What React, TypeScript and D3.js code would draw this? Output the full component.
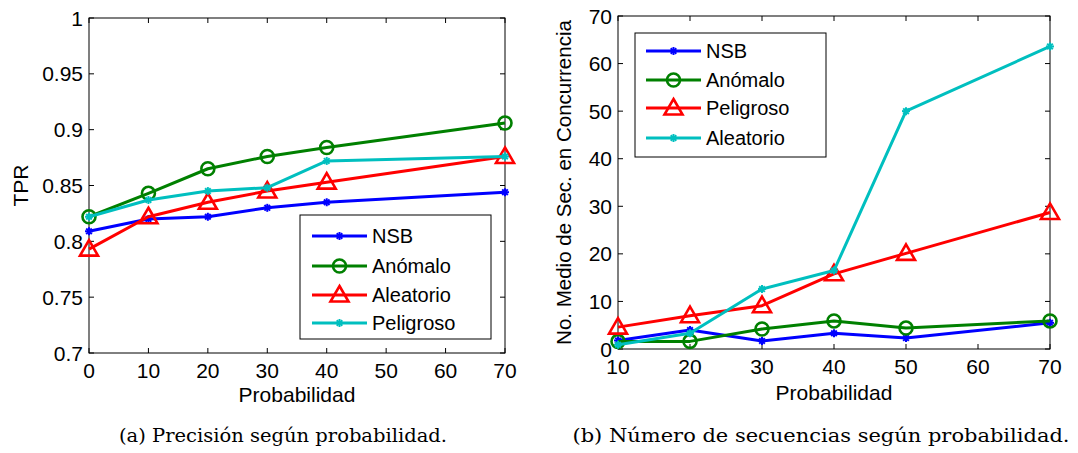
import React from 'react';
import * as d3 from 'd3';

// ---- data ----
const probsA = [0, 10, 20, 30, 40, 70];
const tprNSB = [0.809, 0.82, 0.822, 0.83, 0.835, 0.844];
const tprAnomalo = [0.822, 0.843, 0.865, 0.876, 0.884, 0.906];
const tprAleatorio = [0.793, 0.822, 0.835, 0.845, 0.853, 0.876];
const tprPeligroso = [0.822, 0.837, 0.845, 0.848, 0.872, 0.876];

const probsB = [10, 20, 30, 40, 50, 70];
const secNSB = [1.8, 4.0, 1.7, 3.3, 2.3, 5.5];
const secAnomalo = [1.6, 1.6, 4.2, 5.9, 4.4, 5.9];
const secPeligroso = [4.6, 7.0, 9.1, 15.8, 20.1, 28.7];
const secAleatorio = [0.9, 3.3, 12.6, 16.5, 50.0, 63.6];

const ticksA_x = [0, 10, 20, 30, 40, 50, 60, 70];
const ticksA_y = [0.7, 0.75, 0.8, 0.85, 0.9, 0.95, 1];
const ticksB_x = [10, 20, 30, 40, 50, 60, 70];
const ticksB_y = [0, 10, 20, 30, 40, 50, 60, 70];

const FONT = '"Liberation Sans", Arial, sans-serif';
const SERIF = '"DejaVu Serif", "Liberation Serif", serif';
const BLUE = '#0000ff';
const GREEN = '#008000';
const RED = '#ff0000';
const CYAN = '#00bfbf';

type MarkerKind = 'star' | 'circle' | 'triangle';

interface Series {
  name: string;
  values: number[];
  color: string;
  marker: MarkerKind;
}

const Marker: React.FC<{ kind: MarkerKind; x: number; y: number; color: string }> = ({ kind, x, y, color }) => {
  if (kind === 'circle') {
    return <circle cx={x} cy={y} r={6.5} fill="none" stroke={color} strokeWidth={2.6} />;
  }
  if (kind === 'triangle') {
    const s = 9;
    const p = `M${x},${y - s} L${x + s},${y + s * 0.72} L${x - s},${y + s * 0.72} Z`;
    return <path d={p} fill="none" stroke={color} strokeWidth={2.6} strokeLinejoin="miter" />;
  }
  const s = 4;
  return (
    <g stroke={color} strokeWidth={2}>
      <line x1={x - s} y1={y} x2={x + s} y2={y} />
      <line x1={x} y1={y - s} x2={x} y2={y + s} />
      <line x1={x - s * 0.7} y1={y - s * 0.7} x2={x + s * 0.7} y2={y + s * 0.7} />
      <line x1={x - s * 0.7} y1={y + s * 0.7} x2={x + s * 0.7} y2={y - s * 0.7} />
    </g>
  );
};

interface PanelProps {
  left: number;
  right: number;
  top: number;
  bottom: number;
  xs: number[];
  series: Series[];
  xDomain: [number, number];
  yDomain: [number, number];
  xTicks: number[];
  yTicks: number[];
  yFormat: (v: number) => string;
  yLabel: string;
  yLabelX: number;
  xLabelY: number;
  legend: { x0: number; x1: number; y0: number; y1: number; rows: number[]; lineX0: number; lineX1: number; textX: number };
  caption: string;
  captionX: number;
  captionW: number;
}

const Panel: React.FC<PanelProps> = (p) => {
  const x = d3.scaleLinear().domain(p.xDomain).range([p.left, p.right]);
  const y = d3.scaleLinear().domain(p.yDomain).range([p.bottom, p.top]);
  const tl = 5;
  const midY = (p.top + p.bottom) / 2;
  const midX = (p.left + p.right) / 2;

  return (
    <g>
      {/* ticks */}
      {p.xTicks.map((t) => (
        <g key={'xt' + t}>
          <line x1={x(t)} x2={x(t)} y1={p.bottom} y2={p.bottom - tl} stroke="#000" />
          <line x1={x(t)} x2={x(t)} y1={p.top} y2={p.top + tl} stroke="#000" />
          <text x={x(t)} y={p.bottom + 25} textAnchor="middle" fontSize={21} fontFamily={FONT}>
            {t}
          </text>
        </g>
      ))}
      {p.yTicks.map((t) => (
        <g key={'yt' + t}>
          <line x1={p.left} x2={p.left + tl} y1={y(t)} y2={y(t)} stroke="#000" />
          <line x1={p.right} x2={p.right - tl} y1={y(t)} y2={y(t)} stroke="#000" />
          <text x={p.left - 6} y={y(t)} dy="0.36em" textAnchor="end" fontSize={21} fontFamily={FONT}>
            {p.yFormat(t)}
          </text>
        </g>
      ))}
      <rect x={p.left} y={p.top} width={p.right - p.left} height={p.bottom - p.top} fill="none" stroke="#000" strokeWidth={1} />

      {/* series */}
      {p.series.map((s) => {
        const line = d3
          .line<number>()
          .x((_, i) => x(p.xs[i]))
          .y((v) => y(v));
        return (
          <g key={s.name}>
            <path d={line(s.values) || ''} fill="none" stroke={s.color} strokeWidth={3} strokeLinejoin="round" />
            {s.values.map((v, i) => (
              <Marker key={i} kind={s.marker} x={x(p.xs[i])} y={y(v)} color={s.color} />
            ))}
          </g>
        );
      })}

      {/* legend */}
      <rect
        x={p.legend.x0}
        y={p.legend.y0}
        width={p.legend.x1 - p.legend.x0}
        height={p.legend.y1 - p.legend.y0}
        fill="#fff"
        stroke="#000"
        strokeWidth={1}
      />
      {p.series.map((s, i) => {
        const ry = p.legend.rows[i];
        const cx = (p.legend.lineX0 + p.legend.lineX1) / 2;
        return (
          <g key={'lg' + s.name}>
            <line x1={p.legend.lineX0} x2={p.legend.lineX1} y1={ry} y2={ry} stroke={s.color} strokeWidth={3} />
            <Marker kind={s.marker} x={cx} y={ry} color={s.color} />
            <text x={p.legend.textX} y={ry} dy="0.36em" fontSize={20} fontFamily={FONT}>
              {s.name}
            </text>
          </g>
        );
      })}

      {/* axis labels */}
      <text x={midX} y={p.xLabelY} textAnchor="middle" fontSize={21} fontFamily={FONT}>
        Probabilidad
      </text>
      <text
        transform={`translate(${p.yLabelX},${midY}) rotate(-90)`}
        textAnchor="middle"
        fontSize={p.yLabel.length > 5 ? 20.5 : 21}
        fontFamily={FONT}
      >
        {p.yLabel}
      </text>

      {/* caption */}
      <text
        x={p.captionX - p.captionW / 2}
        y={442}
        fontSize={19}
        fontFamily={SERIF}
        textLength={p.captionW}
        lengthAdjust="spacingAndGlyphs"
      >
        {p.caption}
      </text>
    </g>
  );
};

const App: React.FC = () => {
  const seriesA: Series[] = [
    { name: 'NSB', values: tprNSB, color: BLUE, marker: 'star' },
    { name: 'Anómalo', values: tprAnomalo, color: GREEN, marker: 'circle' },
    { name: 'Aleatorio', values: tprAleatorio, color: RED, marker: 'triangle' },
    { name: 'Peligroso', values: tprPeligroso, color: CYAN, marker: 'star' },
  ];
  const seriesB: Series[] = [
    { name: 'NSB', values: secNSB, color: BLUE, marker: 'star' },
    { name: 'Anómalo', values: secAnomalo, color: GREEN, marker: 'circle' },
    { name: 'Peligroso', values: secPeligroso, color: RED, marker: 'triangle' },
    { name: 'Aleatorio', values: secAleatorio, color: CYAN, marker: 'star' },
  ];

  return (
    <svg width={1078} height={453} style={{ position: 'absolute', left: 0, top: 0, background: '#fff' }}>
      <rect width={1078} height={453} fill="#fff" />
      <Panel
        left={89}
        right={505}
        top={18}
        bottom={353}
        xs={probsA}
        series={seriesA}
        xDomain={[0, 70]}
        yDomain={[0.7, 1]}
        xTicks={ticksA_x}
        yTicks={ticksA_y}
        yFormat={(v) => d3.format('~g')(v)}
        yLabel="TPR"
        yLabelX={28}
        xLabelY={402}
        legend={{ x0: 300, x1: 491, y0: 215, y1: 339, rows: [236, 266, 295, 323], lineX0: 312, lineX1: 367, textX: 372 }}
        caption="(a) Precisión según probabilidad."
        captionX={283}
        captionW={328}
      />
      <Panel
        left={618}
        right={1050}
        top={16}
        bottom={349}
        xs={probsB}
        series={seriesB}
        xDomain={[10, 70]}
        yDomain={[0, 70]}
        xTicks={ticksB_x}
        yTicks={ticksB_y}
        yFormat={(v) => String(v)}
        yLabel="No. Medio de Sec. en Concurrencia"
        yLabelX={571}
        xLabelY={400}
        legend={{ x0: 635, x1: 826, y0: 33, y1: 157, rows: [51, 80, 108, 138], lineX0: 646, lineX1: 701, textX: 706 }}
        caption="(b) Número de secuencias según probabilidad."
        captionX={821}
        captionW={497}
      />
    </svg>
  );
};

export default App;
